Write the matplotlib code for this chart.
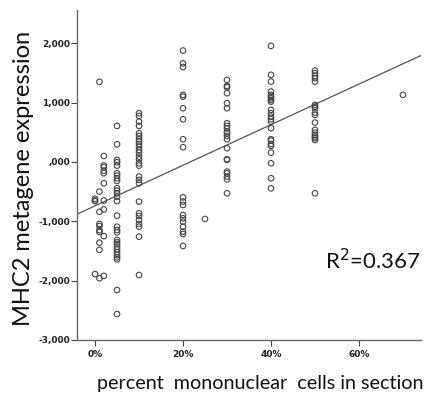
import numpy as np
import matplotlib.pyplot as plt
from matplotlib.ticker import FixedLocator, FixedFormatter

# percent mononuclear cells per column and MHC2 metagene scores measured at that level
pct_0 = [-620, -660, -650, -1890]
pct_1 = [1350, -500, -840, -1045, -1080, -1150, -1180, -1360, -1480, -1960]
pct_2 = [100, -60, -90, -150, -190, -360, -650, -800, -1250, -1920]
pct_5 = [607, 298, 34, -5, -62, -191, -231, -275, -320, -444, -484, -528, -585,
         -658, -905, -1091, -1146, -1186, -1315, -1354, -1383, -1428, -1472,
         -1522, -1568, -1607, -1641, -2158, -2563]
pct_10 = [821, 776, 680, 607, 483, 438, 382, 343, 303, 258, 202, 157, 90, 45,
          -22, -62, -247, -303, -360, -669, -865, -911, -978, -1045, -1091,
          -1259, -1905]
pct_20 = [1877, 1660, 1600, 1130, 1100, 905, 720, 382, 248, -596, -669, -725,
          -894, -950, -1006, -1091, -1175, -1214, -1416]
pct_25 = [-961]
pct_30 = [1383, 1281, 1259, 1158, 990, 905, 652, 607, 568, 511, 483, 438, 382,
          231, 45, 34, -163, -191, -247, -292, -528]
pct_40 = [1956, 1467, 1354, 1186, 1130, 1101, 1074, 1045, 1017, 877, 821, 764,
          720, 680, 568, 382, 359, 303, 270, 157, -22, -275, -444]
pct_50 = [1539, 1495, 1450, 1411, 1354, 961, 932, 905, 831, 792, 663, 540, 494,
          455, 427, 400, 371, -528]
pct_70 = [1130]

groups = {0: pct_0, 1: pct_1, 2: pct_2, 5: pct_5, 10: pct_10, 20: pct_20,
          25: pct_25, 30: pct_30, 40: pct_40, 50: pct_50, 70: pct_70}

# linear fit
fit_intercept = -740
fit_slope = 34.2
r_squared = 0.367

yticks = [-3000, -2000, -1000, 0, 1000, 2000]
ytick_labels = ['-3,000', '-2,000', '-1,000', ',000', '1,000', '2,000']
xticks = [0, 20, 40, 60]
xtick_labels = ['0%', '20%', '40%', '60%']

x = np.concatenate([[k] * len(v) for k, v in groups.items()])
y = np.concatenate([v for v in groups.values()])

fig = plt.figure(figsize=(4.3, 3.96), dpi=100)
ax = fig.add_axes([77 / 430, 56 / 396, 344 / 430, 330 / 396])

ax.scatter(x, y, s=16, facecolors='none', edgecolors='#444444', linewidths=0.8, zorder=3)

xl = np.array([-4.1, 74.1])
ax.plot(xl, fit_intercept + fit_slope * xl, color='#555555', lw=0.9, zorder=2)

ax.set_xlim(-4.1, 74.1)
ax.set_ylim(-3000, 2560)

for s in ['top', 'right']:
    ax.spines[s].set_visible(False)
for s in ['left', 'bottom']:
    ax.spines[s].set_color('#666666')
    ax.spines[s].set_linewidth(1.0)

ax.yaxis.set_major_locator(FixedLocator(yticks))
ax.yaxis.set_major_formatter(FixedFormatter(ytick_labels))
ax.xaxis.set_major_locator(FixedLocator(xticks))
ax.xaxis.set_major_formatter(FixedFormatter(xtick_labels))
ax.tick_params(length=4, width=0.8, color='#444444', pad=1)
for lab in ax.get_xticklabels() + ax.get_yticklabels():
    lab.set_fontfamily('Liberation Sans Narrow')
    lab.set_fontweight('bold')
    lab.set_fontsize(6.5)
    lab.set_color('#222222')
ax.tick_params(axis='x', pad=3)

fig.text(24 / 430, 1 - 178 / 396, 'MHC2 metagene expression', rotation=90,
         ha='center', va='center', fontsize=17, family='Lato', color='#111111')
fig.text(97 / 430, 1 - 384 / 396, 'percent  mononuclear  cells in section',
         ha='left', va='center', fontsize=14.2, family='Lato', color='#111111')
ax.text(0.72, 0.242, r'R$^{2}$=%.3f' % r_squared, transform=ax.transAxes,
        ha='left', va='center', fontsize=16, family='Lato', color='#111111')

fig.savefig('out.png', dpi=100)
